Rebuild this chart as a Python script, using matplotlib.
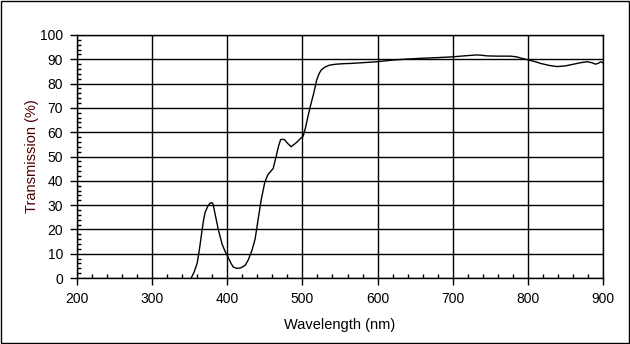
import numpy as np
import matplotlib
matplotlib.use("Agg")
import matplotlib.pyplot as plt
from matplotlib.ticker import MultipleLocator
import matplotlib.patches as mpatches

# transmission spectrum
wavelength = [352, 356, 360, 363, 366.5, 368.5, 370.5, 374, 377, 379.5, 381, 384, 388,
              393, 397, 401, 405, 408, 412, 415, 419, 424, 428, 433, 437, 441, 445,
              450, 454, 457, 461, 465, 468, 471, 476, 480, 485, 489, 493, 497, 501,
              504, 507, 510, 515, 519, 522, 525, 530, 536, 545, 555, 564, 580, 599,
              621, 640, 657, 680, 699, 715, 732, 737, 746, 760, 777, 785, 792, 801,
              810, 817, 828, 839, 850, 861, 870, 879, 885, 890, 894, 897, 900]
transmission = [0, 2.5, 6.2, 12, 19.8, 24, 27, 29.5, 30.8, 31, 30.5, 26, 20,
                14, 11, 8.6, 6, 4.5, 4, 4, 4.3, 5.3, 7.5, 11.5, 16, 24, 32,
                39.5, 42.5, 43.6, 45, 50, 54, 57, 57, 55.5, 54, 55, 56, 57.3, 58.4,
                61.7, 66, 70, 76, 81.5, 84, 85.6, 86.8, 87.6, 88, 88.2, 88.3, 88.6, 89,
                89.7, 90.1, 90.4, 90.7, 91, 91.4, 91.8, 91.7, 91.4, 91.3, 91.3, 91, 90.4, 89.7,
                89, 88.3, 87.5, 87, 87.3, 88, 88.6, 89, 88.6, 88, 88.4, 89, 88.5]

fig = plt.figure(figsize=(6.3, 3.44), dpi=100)
ax = fig.add_axes([77 / 630, 66 / 344, 526 / 630, 243 / 344])

ax.plot(wavelength, transmission, color='black', linewidth=1.0)

ax.set_xlim(200, 900)
ax.set_ylim(0, 100)
ax.xaxis.set_major_locator(MultipleLocator(100))
ax.xaxis.set_minor_locator(MultipleLocator(20))
ax.yaxis.set_major_locator(MultipleLocator(10))
ax.yaxis.set_minor_locator(MultipleLocator(2))

ax.grid(True, which='major', color='black', linewidth=1.0)
ax.set_axisbelow(True)
ax.tick_params(which='major', direction='out', length=5, width=1,
               labelsize=10, pad=5)
ax.tick_params(which='minor', direction='in', length=3, width=1)
for s in ax.spines.values():
    s.set_linewidth(1.0)

ax.set_xlabel('Wavelength (nm)', fontsize=10.5, labelpad=9)
ax.set_ylabel('Transmission (%)', fontsize=10.5, color='#4a0000', labelpad=1)

for lab in ax.get_xticklabels() + ax.get_yticklabels():
    lab.set_family('Liberation Sans')
ax.xaxis.label.set_family('Liberation Sans')
ax.yaxis.label.set_family('Liberation Sans')

# border round the whole picture
fig.patches.append(mpatches.Rectangle((0.0008, 0.0015), 0.9984, 0.997, transform=fig.transFigure,
                                      fill=False, edgecolor='black', linewidth=1.0))

fig.savefig('out.png', dpi=100)
